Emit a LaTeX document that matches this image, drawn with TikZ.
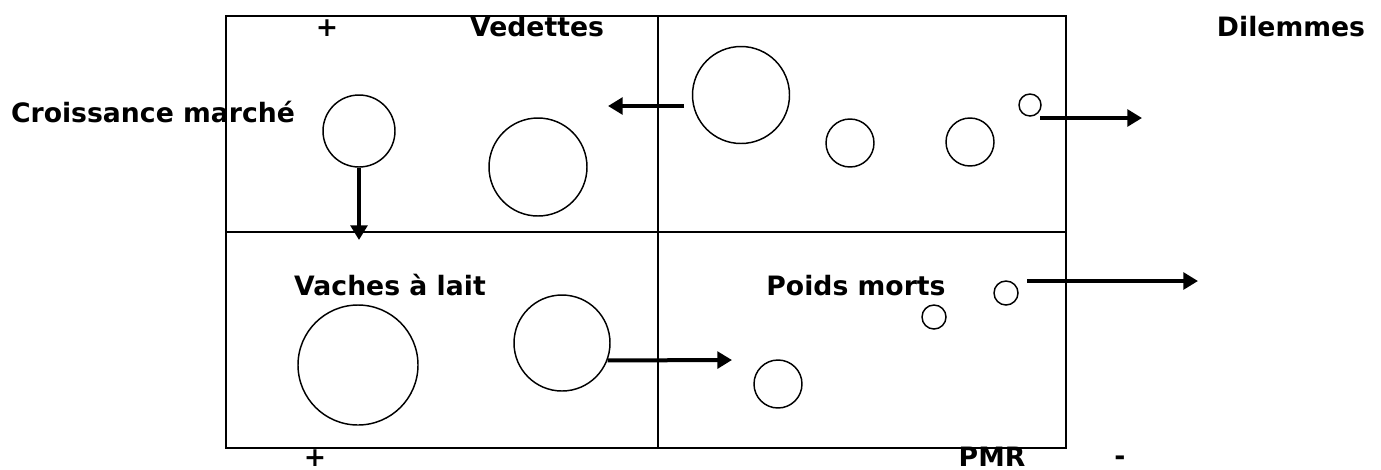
\documentclass[tikz,border=0pt]{standalone}
\usepackage{fontspec}
\setmainfont{DejaVu Sans}
\usetikzlibrary{arrows.meta}
\begin{document}
\begin{tikzpicture}[x=0.75pt,y=-0.75pt,
  lbl/.style={font=\fontsize{20}{24}\selectfont\bfseries, inner sep=0pt, anchor=base},
  bub/.style={draw, circle, line width=1.1pt, inner sep=0pt, minimum size=#1},
  flow/.style={line width=3pt, -{Triangle[length=11pt,width=12.5pt]}},
  frame/.style={line width=1.5pt}]
\useasboundingbox (0,0) rectangle (1381,469);
% matrix frame
\draw[frame] (226,16) rectangle (1066,448);
\draw[frame] (658,16) -- (658,448);
\draw[frame] (226,232) -- (1066,232);
% labels
\node[lbl] (plusT) at (327,36) {+};
\node[lbl] (ved) at (537,36) {Vedettes};
\node[lbl] (dil) at (1291,36) {Dilemmes};
\node[lbl] (crois) at (153,122) {Croissance marché};
\node[lbl] (vach) at (390,295) {Vaches à lait};
\node[lbl] (poids) at (856,295) {Poids morts};
\node[lbl] (plusB) at (315,466) {+};
\node[lbl] (pmr) at (992,466) {PMR};
\node[lbl] (minus) at (1120,465) {-};
% bubbles
\node[bub=54pt] (s1) at (359,131) {};
\node[bub=73.5pt] (s2) at (538,167) {};
\node[bub=72.75pt] (d1) at (741,95) {};
\node[bub=36pt] (d2) at (850,143) {};
\node[bub=36pt] (d3) at (970,142) {};
\node[bub=16.5pt] (d4) at (1030,105) {};
\node[bub=90pt] (v1) at (358,365) {};
\node[bub=72pt] (v2) at (562,343) {};
\node[bub=36pt] (p1) at (778,384) {};
\node[bub=18pt] (p2) at (934,317) {};
\node[bub=18pt] (p3) at (1006,293) {};
% arrow ends
\coordinate (a1s) at (684,106);
\coordinate (a1e) at (608,106);
\coordinate (a2e) at (360,240);
\coordinate (a3s) at (1040,118);
\coordinate (a3e) at (1142,118);
\coordinate (a4e) at (732,360);
\coordinate (a5s) at (1027,281);
\coordinate (a5e) at (1198,281);
% arrows
\draw[flow] (a1s) -- (a1e);
\draw[flow] (s1.south) -- (s1.south |- a2e);
\draw[flow] (a3s) -- (a3e);
\draw[flow] (v2.-21) -- (a4e);
\draw[flow] (a5s) -- (a5e);
\end{tikzpicture}
\end{document}
